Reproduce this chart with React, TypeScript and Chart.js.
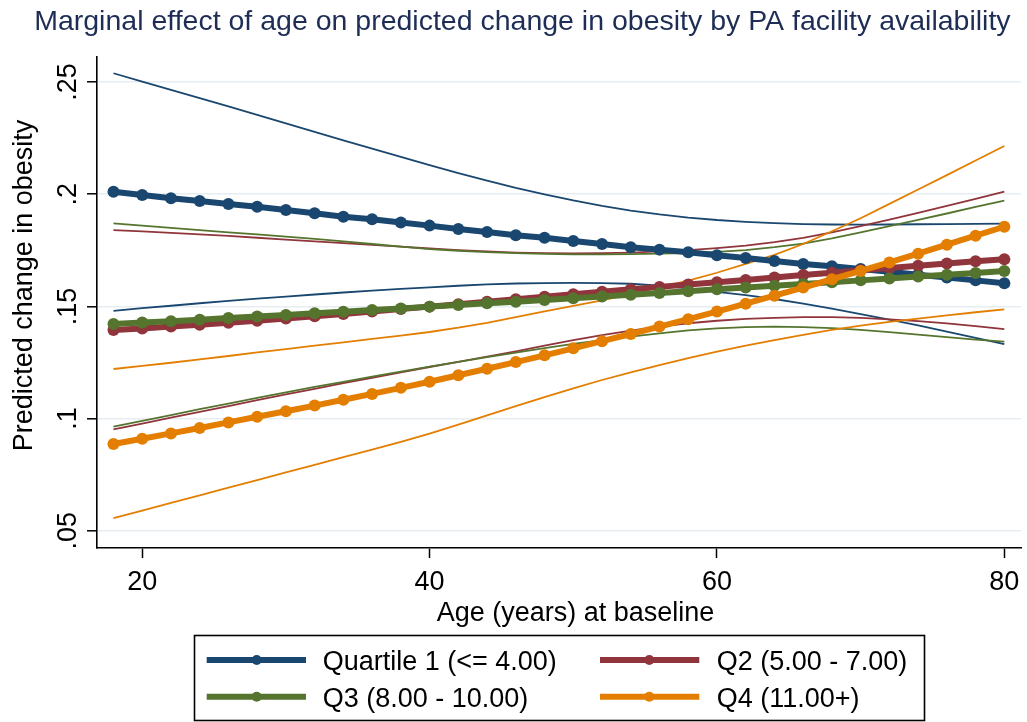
import React, { useEffect, useRef } from "react";
import { Chart, registerables } from "chart.js";

Chart.register(...registerables);

const ages = [18, 20, 22, 24, 26, 28, 30, 32, 34, 36, 38, 40, 42, 44, 46, 48, 50, 52, 54, 56, 58, 60, 62, 64, 66, 68, 70, 72, 74, 76, 78, 80];

const q1 = [0.2011, 0.1996, 0.1982, 0.1970, 0.1956, 0.1944, 0.1930, 0.1915, 0.1900, 0.1888, 0.1874, 0.1860, 0.1845, 0.1832, 0.1817, 0.1806, 0.1791, 0.1778, 0.1764, 0.1753, 0.1741, 0.1728, 0.1716, 0.1702, 0.1689, 0.1679, 0.1667, 0.1654, 0.1641, 0.1629, 0.1616, 0.1603];
const q1Hi = [0.2539, 0.2502, 0.2465, 0.2428, 0.2391, 0.2354, 0.2316, 0.2278, 0.2240, 0.2203, 0.2166, 0.2130, 0.2094, 0.2060, 0.2028, 0.1999, 0.1972, 0.1948, 0.1927, 0.1910, 0.1896, 0.1885, 0.1877, 0.1871, 0.1867, 0.1865, 0.1864, 0.1865, 0.1866, 0.1867, 0.1868, 0.1869];
const q1Lo = [0.1480, 0.1492, 0.1503, 0.1514, 0.1525, 0.1535, 0.1544, 0.1553, 0.1562, 0.1570, 0.1578, 0.1585, 0.1592, 0.1598, 0.1602, 0.1604, 0.1605, 0.1604, 0.1601, 0.1593, 0.1580, 0.1565, 0.1550, 0.1533, 0.1512, 0.1490, 0.1466, 0.1441, 0.1415, 0.1388, 0.1360, 0.1332];

const q2 = [0.1395, 0.1402, 0.1410, 0.1418, 0.1427, 0.1436, 0.1446, 0.1456, 0.1466, 0.1477, 0.1488, 0.1499, 0.1510, 0.1521, 0.1532, 0.1543, 0.1554, 0.1565, 0.1576, 0.1587, 0.1598, 0.1608, 0.1618, 0.1629, 0.1640, 0.1650, 0.1661, 0.1671, 0.1681, 0.1691, 0.1701, 0.1710];
const q2Hi = [0.1840, 0.1834, 0.1828, 0.1821, 0.1814, 0.1806, 0.1798, 0.1790, 0.1782, 0.1774, 0.1766, 0.1758, 0.1751, 0.1745, 0.1740, 0.1737, 0.1736, 0.1737, 0.1740, 0.1745, 0.1751, 0.1760, 0.1771, 0.1786, 0.1805, 0.1830, 0.1858, 0.1887, 0.1917, 0.1948, 0.1979, 0.2011];
const q2Lo = [0.0952, 0.0978, 0.1004, 0.1030, 0.1056, 0.1082, 0.1108, 0.1133, 0.1158, 0.1182, 0.1206, 0.1230, 0.1253, 0.1276, 0.1300, 0.1325, 0.1350, 0.1372, 0.1392, 0.1410, 0.1425, 0.1436, 0.1444, 0.1449, 0.1452, 0.1452, 0.1449, 0.1442, 0.1434, 0.1424, 0.1412, 0.1399];

const q3 = [0.1422, 0.1428, 0.1434, 0.1441, 0.1448, 0.1455, 0.1462, 0.1469, 0.1476, 0.1484, 0.1491, 0.1499, 0.1506, 0.1514, 0.1521, 0.1529, 0.1536, 0.1544, 0.1552, 0.1560, 0.1568, 0.1576, 0.1584, 0.1592, 0.1600, 0.1608, 0.1616, 0.1624, 0.1633, 0.1641, 0.1649, 0.1658];
const q3Hi = [0.1870, 0.1860, 0.1850, 0.1840, 0.1830, 0.1821, 0.1811, 0.1801, 0.1790, 0.1778, 0.1766, 0.1755, 0.1748, 0.1742, 0.1737, 0.1734, 0.1732, 0.1732, 0.1733, 0.1735, 0.1738, 0.1743, 0.1751, 0.1764, 0.1780, 0.1803, 0.1830, 0.1858, 0.1886, 0.1914, 0.1943, 0.1971];
const q3Lo = [0.0964, 0.0990, 0.1016, 0.1042, 0.1067, 0.1092, 0.1117, 0.1141, 0.1164, 0.1187, 0.1209, 0.1232, 0.1253, 0.1274, 0.1294, 0.1314, 0.1333, 0.1350, 0.1365, 0.1380, 0.1393, 0.1402, 0.1408, 0.1410, 0.1408, 0.1403, 0.1395, 0.1385, 0.1374, 0.1363, 0.1352, 0.1343];

const q4 = [0.0887, 0.0910, 0.0934, 0.0958, 0.0983, 0.1008, 0.1033, 0.1058, 0.1084, 0.1110, 0.1137, 0.1164, 0.1193, 0.1222, 0.1252, 0.1282, 0.1313, 0.1345, 0.1377, 0.1410, 0.1443, 0.1477, 0.1512, 0.1548, 0.1584, 0.1621, 0.1658, 0.1696, 0.1735, 0.1775, 0.1815, 0.1855];
const q4Hi = [0.1221, 0.1235, 0.1249, 0.1264, 0.1279, 0.1295, 0.1310, 0.1325, 0.1340, 0.1355, 0.1370, 0.1386, 0.1405, 0.1427, 0.1452, 0.1478, 0.1502, 0.1527, 0.1555, 0.1585, 0.1615, 0.1650, 0.1690, 0.1730, 0.1778, 0.1835, 0.1893, 0.1957, 0.2021, 0.2085, 0.2150, 0.2215];
const q4Lo = [0.0556, 0.0590, 0.0624, 0.0658, 0.0692, 0.0726, 0.0760, 0.0794, 0.0828, 0.0862, 0.0896, 0.0933, 0.0973, 0.1014, 0.1056, 0.1096, 0.1135, 0.1172, 0.1206, 0.1238, 0.1270, 0.1298, 0.1325, 0.1350, 0.1373, 0.1395, 0.1414, 0.1431, 0.1446, 0.1460, 0.1474, 0.1487];

const seriesLabels = ["Quartile 1 (<= 4.00)", "Q2 (5.00 - 7.00)", "Q3 (8.00 - 10.00)", "Q4 (11.00+)"];
const seriesColors = ["#1a476f", "#90353b", "#55752f", "#e37e00"];

const xTicks = [20, 40, 60, 80];
const yTicks = [0.05, 0.1, 0.15, 0.2, 0.25];
const yTickLabels = [".05", ".1", ".15", ".2", ".25"];

const titleText = "Marginal effect of age on predicted change in obesity by PA facility availability";
const xTitle = "Age (years) at baseline";
const yTitle = "Predicted change in obesity";

const FONT = '"Liberation Sans", Arial, Helvetica, sans-serif';

export default function App() {
  const ref = useRef<HTMLCanvasElement>(null);

  useEffect(() => {
    document.body.style.margin = "0";
    const canvas = ref.current;
    if (!canvas) return;

    const mk = (vals: number[]) => ages.map((a, i) => ({ x: a, y: vals[i] }));
    const mains = [q1, q2, q3, q4];
    const his = [q1Hi, q2Hi, q3Hi, q4Hi];
    const los = [q1Lo, q2Lo, q3Lo, q4Lo];

    const datasets: any[] = [];
    mains.forEach((vals, i) => {
      datasets.push({
        label: seriesLabels[i],
        data: mk(vals),
        borderColor: seriesColors[i],
        backgroundColor: seriesColors[i],
        borderWidth: 6,
        pointRadius: 6,
        pointBorderWidth: 0,
        pointBackgroundColor: seriesColors[i],
        tension: 0,
        fill: false,
        order: 3 - i,
      });
    });
    [his, los].forEach((set, k) => {
      set.forEach((vals, i) => {
        datasets.push({
          label: seriesLabels[i] + (k === 0 ? " upper" : " lower"),
          data: mk(vals),
          borderColor: seriesColors[i],
          borderWidth: 1.8,
          pointRadius: 0,
          tension: 0,
          fill: false,
          order: 20 - i,
        });
      });
    });

    const textPlugin = {
      id: "textPlugin",
      afterDraw(chart: any) {
        const ctx = chart.ctx as CanvasRenderingContext2D;
        const xs = chart.scales.x;
        const ys = chart.scales.y;
        ctx.save();
        // title
        ctx.fillStyle = "#1e2d55";
        ctx.font = `28.5px ${FONT}`;
        ctx.textAlign = "center";
        ctx.textBaseline = "alphabetic";
        ctx.fillText(titleText, 522.4, 29.5);

        ctx.fillStyle = "#000";
        ctx.font = `27px ${FONT}`;
        // x tick labels
        xTicks.forEach((v) => {
          ctx.fillText(String(v), xs.getPixelForValue(v), 590);
        });
        // x title
        ctx.fillText(xTitle, 575.5, 620.5);
        // y tick labels (rotated)
        yTicks.forEach((v, i) => {
          ctx.save();
          ctx.translate(75.5, ys.getPixelForValue(v));
          ctx.rotate(-Math.PI / 2);
          ctx.fillText(yTickLabels[i], 0, 0);
          ctx.restore();
        });
        // y title
        ctx.save();
        ctx.translate(32, 285.5);
        ctx.rotate(-Math.PI / 2);
        ctx.fillText(yTitle, 0, 0);
        ctx.restore();

        // legend
        ctx.lineWidth = 1.6;
        ctx.strokeStyle = "#000";
        ctx.strokeRect(194.5, 635.5, 730, 85);
        const cols = [
          { x1: 206.7, x2: 306, m: 256.7, t: 322.7 },
          { x1: 600, x2: 699.3, m: 649.3, t: 716.7 },
        ];
        const rows = [660, 696.7];
        seriesLabels.forEach((lab, i) => {
          const c = cols[i % 2];
          const r = rows[Math.floor(i / 2)];
          ctx.strokeStyle = seriesColors[i];
          ctx.lineWidth = 6;
          ctx.lineCap = "butt";
          ctx.beginPath();
          ctx.moveTo(c.x1, r);
          ctx.lineTo(c.x2, r);
          ctx.stroke();
          ctx.fillStyle = seriesColors[i];
          ctx.beginPath();
          ctx.arc(c.m, r, 5, 0, Math.PI * 2);
          ctx.fill();
          ctx.fillStyle = "#000";
          ctx.textAlign = "left";
          ctx.fillText(lab, c.t, r + 10);
        });
        ctx.restore();
      },
    };

    const chart = new Chart(canvas, {
      type: "line",
      data: { datasets },
      options: {
        responsive: false,
        animation: false,
        layout: { padding: { left: 0, top: 57, right: 4.3, bottom: 0 } },
        plugins: {
          legend: { display: false },
          tooltip: { enabled: false },
          title: { display: false },
        },
        scales: {
          x: {
            type: "linear",
            min: 16.853,
            max: 81.16,
            afterBuildTicks: (s: any) => {
              s.ticks = xTicks.map((v) => ({ value: v }));
            },
            afterFit: (s: any) => {
              s.height = 174;
            },
            ticks: { display: false },
            grid: {
              display: true,
              drawOnChartArea: false,
              drawTicks: true,
              tickLength: 10,
              tickColor: "#000",
              tickWidth: 1.5,
            },
            border: { display: true, color: "#000", width: 1.6 },
          },
          y: {
            type: "linear",
            min: 0.04234,
            max: 0.26114,
            afterBuildTicks: (s: any) => {
              s.ticks = yTicks.map((v) => ({ value: v }));
            },
            afterFit: (s: any) => {
              s.width = 97;
            },
            ticks: { display: false },
            grid: {
              display: true,
              drawOnChartArea: true,
              color: "#e6eef2",
              lineWidth: 1.6,
              drawTicks: true,
              tickLength: 10,
              tickColor: "#000",
              tickWidth: 1.5,
            },
            border: { display: true, color: "#000", width: 1.6 },
          },
        },
      } as any,
      plugins: [textPlugin],
    });

    return () => chart.destroy();
  }, []);

  return (
    <div style={{ position: "absolute", left: 0, top: 0, width: 1027, height: 722, background: "#fff" }}>
      <canvas ref={ref} width={1027} height={722} style={{ width: 1027, height: 722, display: "block" }} />
    </div>
  );
}
